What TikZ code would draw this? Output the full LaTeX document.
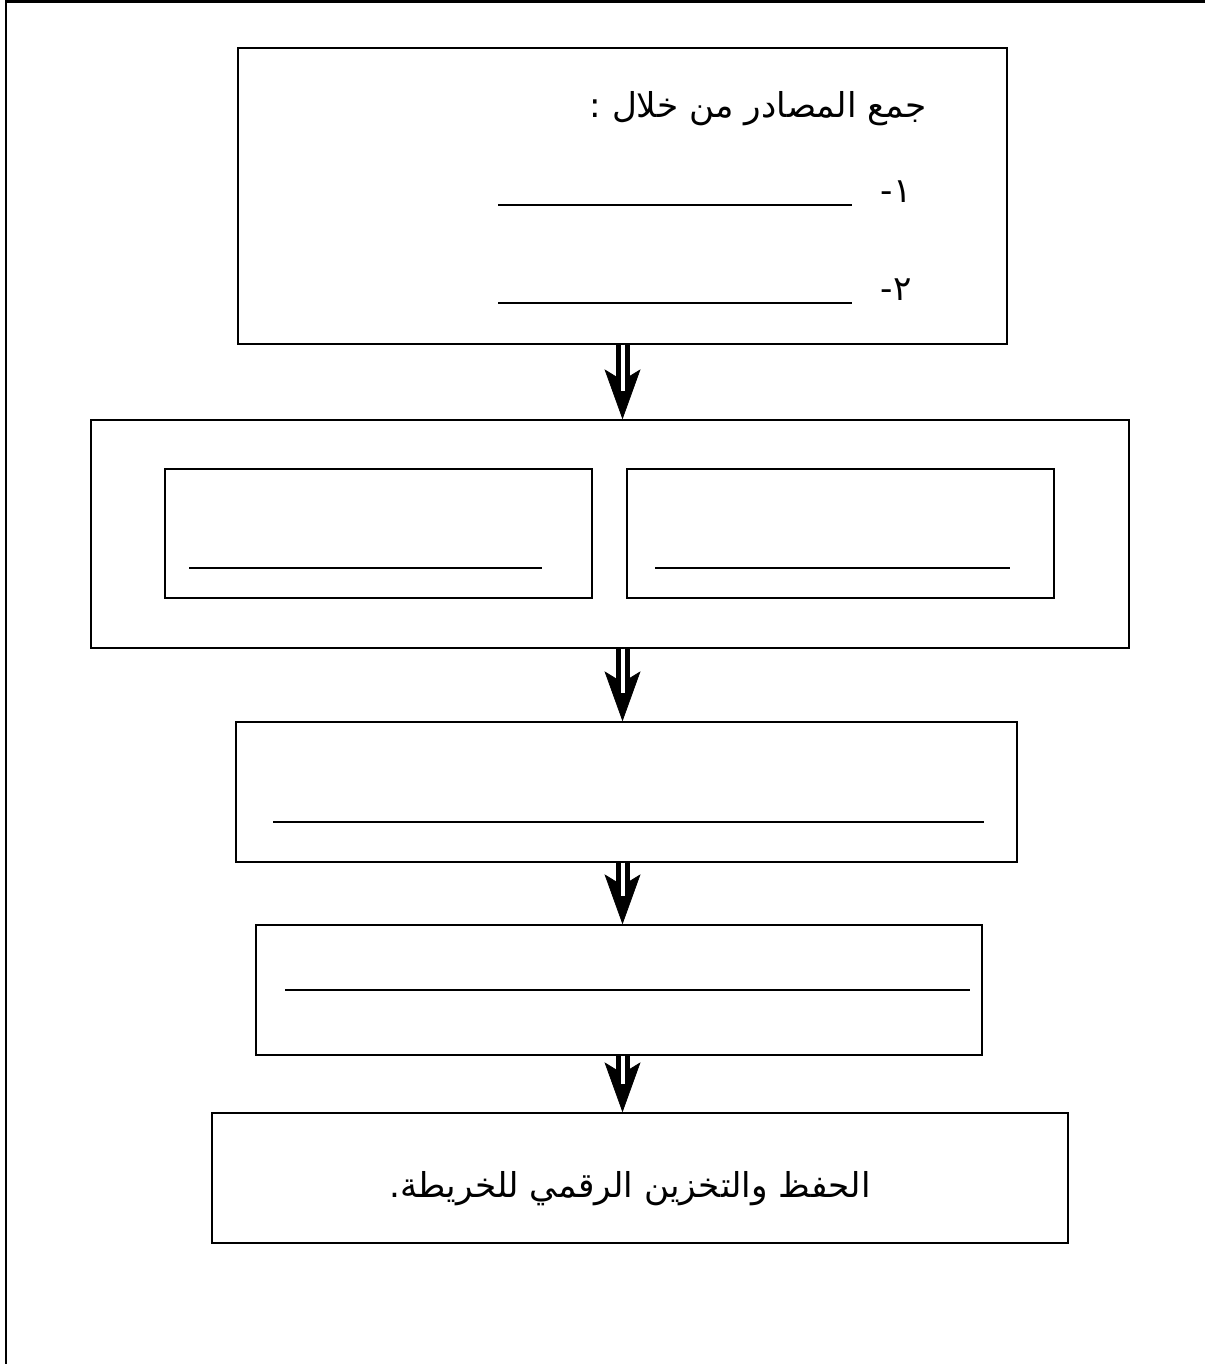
\documentclass[tikz,border=0pt]{standalone}
\usepackage{fontspec}
\newfontfamily\arabicfont[Script=Arabic]{DejaVu Sans}
\TeXXeTstate=1
\usetikzlibrary{arrows.meta}

\begin{document}
\begin{tikzpicture}[x=0.02cm,y=-0.02cm,
    box node/.style={rectangle,draw,line width=0.8pt,inner sep=0pt},
    blank line/.style={line width=0.8pt},
    ar text/.style={font=\arabicfont\fontsize{19.5}{23}\selectfont,inner sep=0pt},
    flow head/.style={-{Stealth[length=1cm,width=0.72cm,inset=0.22cm]},line width=0.4pt},
    flow shaft/.style={double,double distance=0.08cm,line width=0.1cm,shorten >=0.56cm}]
  \useasboundingbox (0,0) rectangle (1205,1364);
  % page frame
  \draw[line width=1.3pt] (6,1364) -- (6,1.5) -- (1205,1.5);

  % boxes
  \node[box node,minimum width=15.38cm,minimum height=5.92cm] (b1) at (622.5,196) {};
  \node[box node,minimum width=20.76cm,minimum height=4.56cm] (b2) at (610,534) {};
  \node[box node,minimum width=8.54cm,minimum height=2.58cm] (b2l) at (378.5,533.5) {};
  \node[box node,minimum width=8.54cm,minimum height=2.58cm] (b2r) at (840.5,533.5) {};
  \node[box node,minimum width=15.62cm,minimum height=2.8cm] (b3) at (626.5,792) {};
  \node[box node,minimum width=14.52cm,minimum height=2.6cm] (b4) at (619,990) {};
  \node[box node,minimum width=17.12cm,minimum height=2.6cm] (b5) at (640,1178) {};

  % texts
  \node[ar text,anchor=base east] (title) at (927,118) {\arabicfont\beginR جمع المصادر من خلال :\endR};
  \node[ar text,anchor=base east] (one) at (912,203) {\arabicfont\beginR ١-\endR};
  \node[ar text,anchor=base east] (two) at (912,301) {\arabicfont\beginR ٢-\endR};
  \node[ar text,anchor=base] (save) at (630,1197) {\arabicfont\beginR الحفظ والتخزين الرقمي للخريطة.\endR};

  % blanks
  \draw[blank line] (498,205) -- (852,205);
  \draw[blank line] (498,303) -- (852,303);
  \draw[blank line] (189,568) -- (542,568);
  \draw[blank line] (655,568) -- (1010,568);
  \draw[blank line] (273,822) -- (984,822);
  \draw[blank line] (285,990) -- (970,990);

  % arrows
  \path (b1.south) edge[flow head] (b1.south |- b2.north)
                   edge[flow shaft] (b1.south |- b2.north);
  \path (b1.south |- b2.south) edge[flow head] (b1.south |- b3.north)
                               edge[flow shaft] (b1.south |- b3.north);
  \path (b1.south |- b3.south) edge[flow head] (b1.south |- b4.north)
                               edge[flow shaft] (b1.south |- b4.north);
  \path (b1.south |- b4.south) edge[flow head] (b1.south |- b5.north)
                               edge[flow shaft] (b1.south |- b5.north);
\end{tikzpicture}
\end{document}
